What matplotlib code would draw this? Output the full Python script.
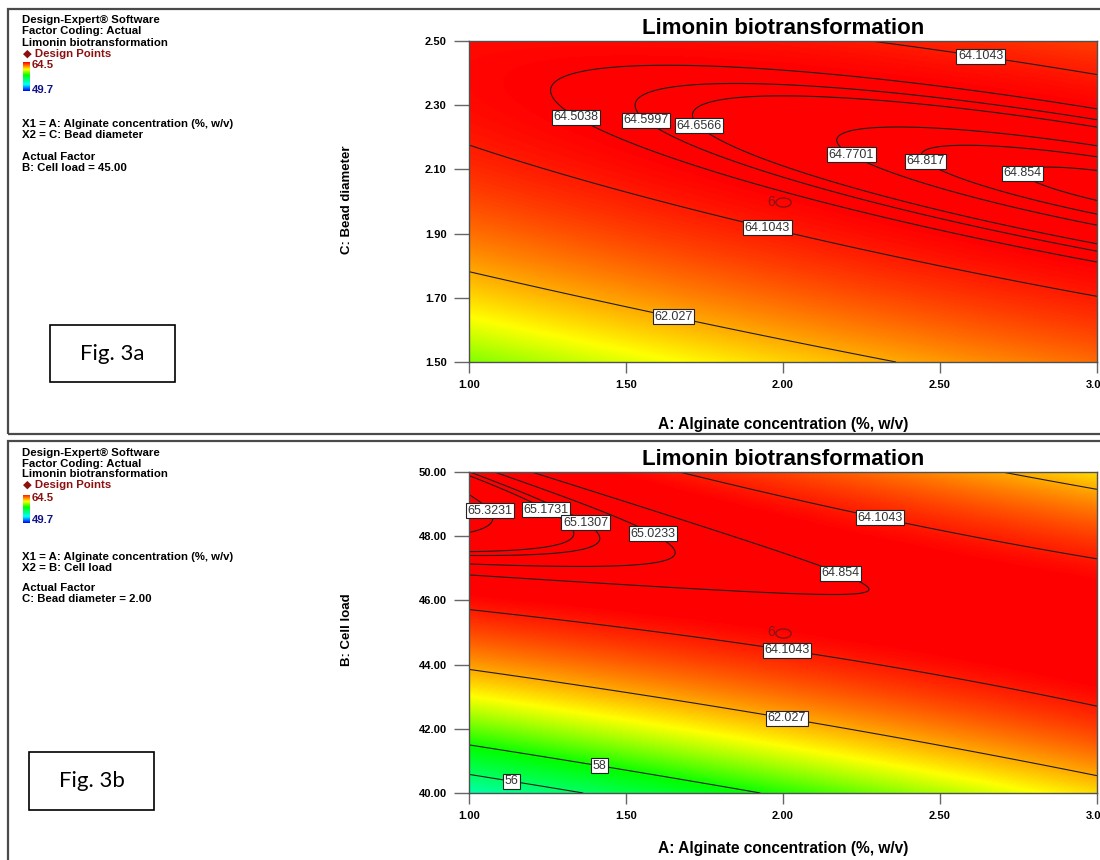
import numpy as np
import matplotlib
matplotlib.use("Agg")
import matplotlib.pyplot as plt
from matplotlib.colors import LinearSegmentedColormap, Normalize
from matplotlib.patches import Rectangle
from matplotlib.path import Path

plt.rcParams['font.family'] = ['Liberation Sans', 'DejaVu Sans']

# Quadratic response model for limonin biotransformation, coded factors (-1..+1)
# order: intercept, A, B, C, AB, AC, BC, A^2, B^2, C^2
coef_names = ["Intercept", "A", "B", "C", "AB", "AC", "BC", "A^2", "B^2", "C^2"]
coef_values = [64.423, 0.714, 2.63, 1.408, -2.63, -1.088, 0.0, -0.285, -3.55, -1.6]

# Factor ranges in actual units
alginate_range = [1.0, 3.0]     # A: Alginate concentration (%, w/v)
cell_load_range = [40.0, 50.0]  # B: Cell load
bead_range = [1.5, 2.5]         # C: Bead diameter

# Colour scale limits of the response
resp_low, resp_high = 49.7, 64.5

# Contour levels with their printed labels and approximate label spots (x, y)
labels_3a = ["64.1043", "64.5038", "64.5997", "64.6566", "64.7701", "64.817", "64.854", "64.1043", "62.027"]
spots_3a_x = [2.64, 1.36, 1.53, 1.68, 2.25, 2.47, 2.73, 1.97, 1.66]
spots_3a_y = [2.47, 2.27, 2.24, 2.22, 2.16, 2.13, 2.09, 1.94, 1.65]

labels_3b = ["65.3231", "65.1731", "65.1307", "65.0233", "64.1043", "64.854", "64.1043", "62.027", "58", "56"]
spots_3b_x = [1.09, 1.28, 1.40, 1.61, 2.32, 2.19, 2.02, 2.02, 1.42, 1.14]
spots_3b_y = [48.84, 48.97, 48.53, 48.19, 48.72, 46.9, 44.56, 42.44, 40.94, 40.47]

x_ticks = [1.00, 1.50, 2.00, 2.50, 3.00]
y_ticks_3a = [1.50, 1.70, 1.90, 2.10, 2.30, 2.50]
y_ticks_3b = [40.00, 42.00, 44.00, 46.00, 48.00, 50.00]

center_point = {"A": 2.00, "B": 45.00, "C": 2.00, "runs": "6"}


def coded(val, rng):
    return (val - (rng[0] + rng[1]) / 2.0) / ((rng[1] - rng[0]) / 2.0)


def response(A, B, C):
    a = coded(A, alginate_range)
    b = coded(B, cell_load_range)
    c = coded(C, bead_range)
    k = dict(zip(coef_names, coef_values))
    return (k["Intercept"] + k["A"] * a + k["B"] * b + k["C"] * c
            + k["AB"] * a * b + k["AC"] * a * c + k["BC"] * b * c
            + k["A^2"] * a * a + k["B^2"] * b * b + k["C^2"] * c * c)


cmap = LinearSegmentedColormap.from_list(
    "de", [(0.0, (0, 0, 1)), (0.22, (0, 1, 1)), (0.55, (0, 1, 0)),
           (0.75, (1, 1, 0)), (1.0, (1, 0, 0))])
norm = Normalize(resp_low, resp_high, clip=True)

W, H = 1100, 860
fig = plt.figure(figsize=(W / 100, H / 100), dpi=100)


def fx(px):
    return px / W


def fy(py):
    return 1 - py / H


# panel frames
fig.add_artist(Rectangle((fx(8), fy(434)), fx(1100), 434 / H - 9 / H,
                         transform=fig.transFigure, fill=False, ec='#4a4a4a', lw=1.6))
fig.add_artist(Rectangle((fx(8), fy(870)), fx(1100), (870 - 441) / H,
                         transform=fig.transFigure, fill=False, ec='#4a4a4a', lw=1.6))

ell_path = Path(np.column_stack([np.cos(np.linspace(0, 2 * np.pi, 60)),
                                 0.6 * np.sin(np.linspace(0, 2 * np.pi, 60))]))


def draw_panel(top_px, yrange, yticks, labels, sx, sy, slice_fn, cp_y, xlabel_px):
    ax = fig.add_axes([fx(469), fy(top_px + 321), fx(1097 - 469), 321 / H])
    xs = np.linspace(alginate_range[0], alginate_range[1], 400)
    ys = np.linspace(yrange[0], yrange[1], 300)
    X, Y = np.meshgrid(xs, ys)
    Z = slice_fn(X, Y)
    ax.imshow(Z, origin='lower', extent=[xs[0], xs[-1], ys[0], ys[-1]],
              aspect='auto', cmap=cmap, norm=norm, interpolation='bilinear')
    levels = sorted(set(float(t) for t in labels))
    cs = ax.contour(X, Y, Z, levels=levels, colors='#1e1e1e', linewidths=0.8)
    xr = xs[-1] - xs[0]
    yr = ys[-1] - ys[0]
    paths = cs.get_paths()
    for text, px, py in zip(labels, sx, sy):
        i = levels.index(float(text))
        v = paths[i].vertices
        if len(v) == 0:
            continue
        d = ((v[:, 0] - px) / xr) ** 2 + ((v[:, 1] - py) / yr) ** 2
        j = int(np.argmin(d))
        ax.text(v[j, 0], v[j, 1], text, ha='center', va='center', fontsize=9,
                color='#333333', zorder=6,
                bbox=dict(boxstyle='square,pad=0.12', fc='white', ec='#222222', lw=0.8))
    # design point (center point, replicated runs)
    ax.plot([center_point["A"]], [cp_y], linestyle='none', marker=ell_path,
            markersize=11, mfc='none', mec='#8a1414', mew=1.0, zorder=7)
    ax.annotate(center_point["runs"], (center_point["A"], cp_y), xytext=(-6, 0),
                textcoords='offset points', ha='right', va='center',
                fontsize=10, color='#8a1414', zorder=7)
    ax.set_xlim(alginate_range)
    ax.set_ylim(yrange)
    ax.set_xticks(x_ticks)
    ax.set_xticklabels([f"{t:.2f}" for t in x_ticks])
    ax.set_yticks(yticks)
    ax.set_yticklabels([f"{t:.2f}" for t in yticks])
    for lab in ax.get_xticklabels() + ax.get_yticklabels():
        lab.set_fontweight('bold')
        lab.set_fontsize(8)
    ax.tick_params(axis='y', length=11, width=1, color='#666666', pad=5, direction='out')
    ax.tick_params(axis='x', length=8, width=1, color='#666666', pad=5, direction='out')
    for s in ax.spines.values():
        s.set_color('#505050')
        s.set_linewidth(1.0)
    fig.text(fx(783), fy(top_px - 13), "Limonin biotransformation", ha='center',
             va='center', fontsize=16, fontweight='bold')
    fig.text(fx(783), fy(xlabel_px), "A: Alginate concentration (%, w/v)",
             ha='center', va='center', fontsize=11.2, fontweight='bold')
    return ax


draw_panel(41, bead_range, y_ticks_3a, labels_3a, spots_3a_x, spots_3a_y,
           lambda A, C: response(A, center_point["B"], C), center_point["C"], 424)
draw_panel(472, cell_load_range, y_ticks_3b, labels_3b, spots_3b_x, spots_3b_y,
           lambda A, B: response(A, B, center_point["C"]), center_point["B"], 849)

fig.text(fx(347), fy(200), "C: Bead diameter", rotation=90, ha='center', va='center',
         fontsize=9.5, fontweight='bold')
fig.text(fx(347), fy(630), "B: Cell load", rotation=90, ha='center', va='center',
         fontsize=9.5, fontweight='bold')


def info_block(lines_xy, swatch):
    for txt, yy, col, xx in lines_xy:
        fig.text(fx(xx), fy(yy), txt, ha='left', va='center', fontsize=8.2,
                 fontweight='bold', color=col)
    top, bot = swatch
    sax = fig.add_axes([fx(23), fy(bot), fx(7), (bot - top) / H])
    sax.imshow(np.linspace(0, 1, 100)[:, None], origin='lower', aspect='auto',
               cmap=cmap, extent=[0, 1, 0, 1])
    sax.set_axis_off()


dark_red = '#8b1010'
dark_blue = '#10108b'
info_block([
    ("Design-Expert® Software", 20, 'black', 22),
    ("Factor Coding: Actual", 31, 'black', 22),
    ("Limonin biotransformation", 43, 'black', 22),
    ("◆ Design Points", 54, dark_red, 23),
    (f"{resp_high}", 65, dark_red, 32),
    (f"{resp_low}", 90, dark_blue, 32),
    ("X1 = A: Alginate concentration (%, w/v)", 124, 'black', 22),
    ("X2 = C: Bead diameter", 135, 'black', 22),
    ("Actual Factor", 157, 'black', 22),
    (f"B: Cell load = {center_point['B']:.2f}", 168, 'black', 22),
], (62, 91))
info_block([
    ("Design-Expert® Software", 453, 'black', 22),
    ("Factor Coding: Actual", 464, 'black', 22),
    ("Limonin biotransformation", 474, 'black', 22),
    ("◆ Design Points", 485, dark_red, 23),
    (f"{resp_high}", 498, dark_red, 32),
    (f"{resp_low}", 520, dark_blue, 32),
    ("X1 = A: Alginate concentration (%, w/v)", 557, 'black', 22),
    ("X2 = B: Cell load", 568, 'black', 22),
    ("Actual Factor", 588, 'black', 22),
    (f"C: Bead diameter = {center_point['C']:.2f}", 599, 'black', 22),
], (495, 523))

# figure tags
for (x0, y0, x1, y1, tag) in [(50, 325, 175, 382, "Fig. 3a"), (29, 752, 154, 810, "Fig. 3b")]:
    fig.add_artist(Rectangle((fx(x0), fy(y1)), fx(x1 - x0), (y1 - y0) / H,
                             transform=fig.transFigure, fill=False, ec='black', lw=1.2))
    fig.text(fx((x0 + x1) / 2), fy((y0 + y1) / 2), tag, ha='center', va='center',
             fontsize=16, family=['Lato', 'DejaVu Sans'])

fig.savefig("out.png", dpi=100)
